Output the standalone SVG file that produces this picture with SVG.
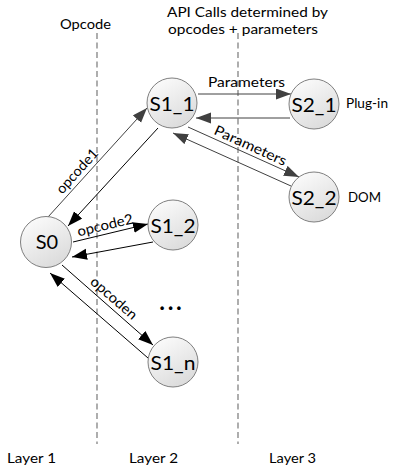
<svg xmlns="http://www.w3.org/2000/svg" width="395" height="470" viewBox="0 0 395 470">
<style>
  text { font-family: Lato, "Liberation Sans", sans-serif; fill: #000; }
  .lbl { font-size: 14px; }
  .node-label { font-size: 20px; text-anchor: middle; }
  .node circle { fill: url(#g); stroke: #7f7f7f; stroke-width: 1; }
  .dash { stroke: #8c8c8c; stroke-width: 1.4; stroke-dasharray: 6 3.5; fill: none; }
  .lg { stroke: #404040; stroke-width: 1; fill: none; marker-end: url(#ahg); }
  .lb { stroke: #000; stroke-width: 1; fill: none; marker-end: url(#ahb); }
</style>
<defs>
  <linearGradient id="g" x1="0" y1="0" x2="0.6" y2="1">
    <stop offset="0" stop-color="#ffffff"/>
    <stop offset="1" stop-color="#dcdcdc"/>
  </linearGradient>
  <marker id="ahg" markerUnits="userSpaceOnUse" markerWidth="16" markerHeight="12" refX="15" refY="5.5" orient="auto">
    <path d="M0,0 L15,5.5 L0,11 z" fill="#404040"/>
  </marker>
  <marker id="ahb" markerUnits="userSpaceOnUse" markerWidth="16" markerHeight="12" refX="15" refY="5.5" orient="auto">
    <path d="M0,0 L15,5.5 L0,11 z" fill="#000"/>
  </marker>
</defs>
<rect width="395" height="470" fill="#fff"/>

<g id="layers">
  <line class="dash" x1="97" y1="33" x2="97" y2="444"/>
  <line class="dash" x1="238" y1="33" x2="238" y2="444"/>
  <text class="lbl" x="60" y="29" textLength="51" lengthAdjust="spacingAndGlyphs">Opcode</text>
  <text class="lbl" x="167" y="17" textLength="161" lengthAdjust="spacingAndGlyphs">API Calls determined by</text>
  <text class="lbl" x="168" y="34" textLength="150" lengthAdjust="spacingAndGlyphs">opcodes + parameters</text>
  <text class="lbl" x="7" y="463" textLength="49" lengthAdjust="spacingAndGlyphs">Layer 1</text>
  <text class="lbl" x="129" y="463" textLength="49" lengthAdjust="spacingAndGlyphs">Layer 2</text>
  <text class="lbl" x="269" y="463" textLength="47" lengthAdjust="spacingAndGlyphs">Layer 3</text>
  <text class="lbl" x="346" y="108" textLength="42" lengthAdjust="spacingAndGlyphs">Plug-in</text>
  <text class="lbl" x="348" y="202" textLength="33" lengthAdjust="spacingAndGlyphs">DOM</text>
  <text x="159.5" y="310" style="font-size:22px;font-weight:900" textLength="22" lengthAdjust="spacing">...</text>
</g>

<g id="connectors">
  <line class="lg" x1="198" y1="94" x2="291" y2="94"/>
  <line class="lg" x1="290" y1="118" x2="196" y2="118"/>
  <line class="lg" x1="188" y1="127" x2="299" y2="177"/>
  <line class="lg" x1="291" y1="186" x2="173" y2="133"/>
  <line class="lg" x1="48" y1="217" x2="147" y2="108"/>
  <line class="lb" x1="158" y1="128" x2="68" y2="226"/>
  <line class="lb" x1="73" y1="242" x2="148" y2="224"/>
  <line class="lb" x1="153" y1="242" x2="72" y2="257"/>
  <line class="lb" x1="62" y1="265" x2="153" y2="345"/>
  <line class="lb" x1="148" y1="358" x2="50" y2="273"/>
  <text class="lbl" x="208" y="87" textLength="77" lengthAdjust="spacingAndGlyphs">Parameters</text>
  <text class="lbl" text-anchor="middle" dy="0.35em" transform="translate(250.5,145.5) rotate(24.4)" textLength="78" lengthAdjust="spacingAndGlyphs">Parameters</text>
  <text class="lbl" text-anchor="middle" dy="0.35em" transform="translate(77,171) rotate(-47.8)" textLength="55" lengthAdjust="spacingAndGlyphs">opcode1</text>
  <text class="lbl" text-anchor="middle" dy="0.35em" transform="translate(105,225) rotate(-13.5)" textLength="57" lengthAdjust="spacingAndGlyphs">opcode2</text>
  <text class="lbl" text-anchor="middle" dy="0.35em" transform="translate(114,298) rotate(41.3)" textLength="57" lengthAdjust="spacingAndGlyphs">opcoden</text>
</g>

<g id="S0" class="node"><circle cx="46" cy="242" r="25.5"/><text class="node-label" x="47" y="249">S0</text></g>
<g id="S1_1" class="node"><circle cx="172" cy="103" r="25"/><text class="node-label" x="172" y="111" textLength="45" lengthAdjust="spacingAndGlyphs">S1_1</text></g>
<g id="S1_2" class="node"><circle cx="173" cy="225" r="25"/><text class="node-label" x="173" y="233" textLength="45" lengthAdjust="spacingAndGlyphs">S1_2</text></g>
<g id="S1_n" class="node"><circle cx="173" cy="362" r="25"/><text class="node-label" x="173" y="370" textLength="45" lengthAdjust="spacingAndGlyphs">S1_n</text></g>
<g id="S2_1" class="node"><circle cx="314" cy="104" r="25"/><text class="node-label" x="314" y="112" textLength="45" lengthAdjust="spacingAndGlyphs">S2_1</text></g>
<g id="S2_2" class="node"><circle cx="314" cy="197" r="25"/><text class="node-label" x="314" y="205" textLength="45" lengthAdjust="spacingAndGlyphs">S2_2</text></g>
</svg>
